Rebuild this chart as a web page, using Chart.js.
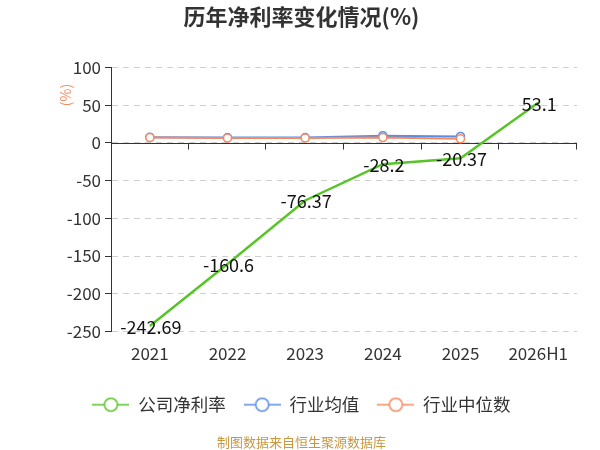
<!DOCTYPE html>
<html>
<head>
<meta charset="utf-8">
<script src="https://cdn.jsdelivr.net/npm/chart.js@4/dist/chart.umd.min.js"></script>
<style>
  html, body { margin: 0; padding: 0; background: #fff; }
  #wrap { width: 600px; height: 450px; }
</style>
</head>
<body>
<div id="wrap"><canvas id="chart" width="600" height="450"></canvas></div>
<script>
// chart data
const years = ["2021", "2022", "2023", "2024", "2025", "2026H1"];
const companyRate = [-242.69, -160.6, -76.37, -28.2, -20.37, 53.1];
const industryAvg = [7.5, 7, 7, 9.5, 8.5, null];
const industryMedian = [7, 6.3, 6.3, 7, 5.3, null];

const GREEN = "#57c528";
const BLUE = "#5b8de6";
const ORANGE = "#f7895f";
const FONT = "'Noto Sans CJK SC', 'Noto Sans', sans-serif";

// little line-circle-line marker for the legend
function legendMark(color) {
    const c = document.createElement("canvas");
    c.width = 37; c.height = 16;
    const g = c.getContext("2d");
    g.strokeStyle = color;
    g.lineWidth = 1.5;
    g.beginPath(); g.moveTo(0, 8); g.lineTo(12, 8); g.moveTo(25, 8); g.lineTo(37, 8); g.stroke();
    g.beginPath(); g.arc(18.5, 8, 6.5, 0, Math.PI * 2);
    g.fillStyle = "#fff"; g.fill(); g.stroke();
    return c;
}

// value labels on the company line
const valueLabels = {
    id: "valueLabels",
    afterDatasetsDraw(chart) {
        const ctx = chart.ctx;
        const meta = chart.getDatasetMeta(0);
        ctx.save();
        ctx.font = "18px " + FONT;
        ctx.fillStyle = "#111";
        ctx.textAlign = "center";
        ctx.textBaseline = "middle";
        meta.data.forEach((pt, i) => {
            ctx.fillText(String(companyRate[i]), pt.x + 1, pt.y + 1);
        });
        ctx.restore();
    }
};

// zero axis line with ticks at category edges, plus the (%) unit label
const zeroAxis = {
    id: "zeroAxis",
    beforeDatasetsDraw(chart) {
        const ctx = chart.ctx;
        const y = chart.scales.y;
        const y0 = Math.round(y.getPixelForValue(0)) + 0.5;
        ctx.save();
        ctx.strokeStyle = "#333";
        ctx.lineWidth = 1;
        ctx.beginPath();
        ctx.moveTo(chart.chartArea.left, y0);
        ctx.lineTo(chart.chartArea.right, y0);
        const step = (chart.chartArea.right - chart.chartArea.left) / years.length;
        for (let i = 1; i <= years.length; i++) {
            const px = Math.round(chart.chartArea.left + step * i) - 0.5;
            ctx.moveTo(px, y0);
            ctx.lineTo(px, y0 + 6);
        }
        ctx.stroke();
        ctx.translate(66, 95);
        ctx.rotate(-Math.PI / 2);
        ctx.font = "14px " + FONT;
        ctx.fillStyle = ORANGE;
        ctx.textAlign = "center";
        ctx.textBaseline = "middle";
        ctx.fillText("(%)", 0, 0);
        ctx.restore();
    }
};

const ctx = document.getElementById("chart").getContext("2d");
new Chart(ctx, {
    type: "line",
    data: {
        labels: years,
        datasets: [{
            label: "公司净利率",
            data: companyRate,
            borderColor: GREEN,
            backgroundColor: "#fff",
            borderWidth: 2.5,
            pointRadius: 0,
            tension: 0,
            order: 0
        }, {
            label: "行业均值",
            data: industryAvg,
            borderColor: BLUE,
            backgroundColor: "#fff",
            borderWidth: 2,
            pointRadius: 4,
            pointBorderWidth: 1.5,
            tension: 0,
            order: 2
        }, {
            label: "行业中位数",
            data: industryMedian,
            borderColor: ORANGE,
            backgroundColor: "#fff",
            borderWidth: 2,
            pointRadius: 4,
            pointBorderWidth: 1.5,
            tension: 0,
            order: 1
        }]
    },
    options: {
        responsive: false,
        animation: false,
        layout: { padding: { left: 26, right: 23, top: 0, bottom: 0 } },
        plugins: {
            title: {
                display: true,
                text: "历年净利率变化情况(%)",
                color: "#333",
                font: { family: FONT, size: 22, weight: "bold" },
                padding: { top: 3, bottom: 38 }
            },
            legend: {
                position: "bottom",
                labels: {
                    usePointStyle: true,
                    pointStyleWidth: 37,
                    color: "#333",
                    font: { family: FONT, size: 17.5 },
                    padding: 18,
                    sort: (a, b) => a.datasetIndex - b.datasetIndex,
                    generateLabels(chart) {
                        const items = Chart.defaults.plugins.legend.labels.generateLabels(chart);
                        items.forEach(it => {
                            it.pointStyle = legendMark(chart.data.datasets[it.datasetIndex].borderColor);
                        });
                        return items;
                    }
                }
            },
            subtitle: {
                display: true,
                position: "bottom",
                text: "制图数据来自恒生聚源数据库",
                color: "#c9973f",
                font: { family: FONT, size: 13 },
                padding: { top: 11, bottom: 0 }
            },
            tooltip: { enabled: false }
        },
        scales: {
            x: {
                offset: true,
                afterFit(scale) { scale.height += 10; },
                grid: { display: false },
                border: { display: false },
                ticks: { color: "#333", font: { family: FONT, size: 17 }, padding: 4 }
            },
            y: {
                min: -250,
                max: 100,
                afterFit(scale) { scale.width = 85; },
                ticks: { stepSize: 50, color: "#333", font: { family: FONT, size: 17 }, padding: 4 },
                grid: { color: "#cfcfcf", tickColor: "#333", tickLength: 6, tickBorderDash: [] },
                border: { display: true, color: "#333", dash: [6, 5] }
            }
        }
    },
    plugins: [zeroAxis, valueLabels]
});
</script>
</body>
</html>
